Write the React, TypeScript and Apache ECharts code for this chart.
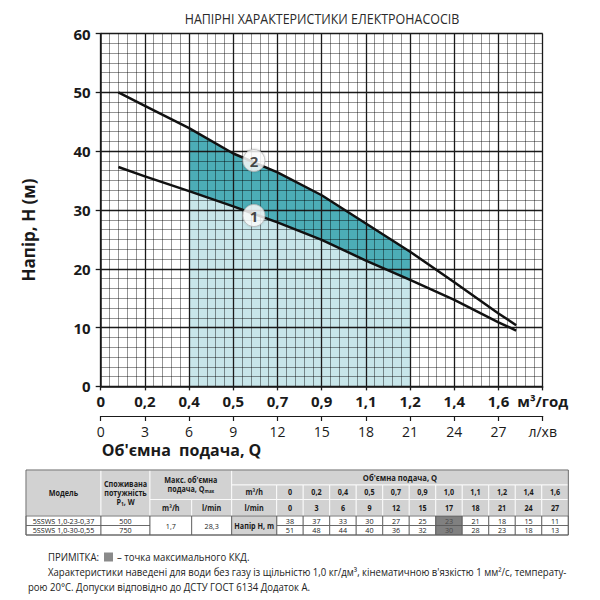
import React, { useEffect, useRef } from "react";
import * as echarts from "echarts";

// Flow axis runs in l/min; the m³/h row above it is its rounded equivalent
const flowTicksLpm = ["0", "3", "6", "9", "12", "15", "18", "21", "24", "27"];
const flowTicksM3h = ["0", "0,2", "0,4", "0,5", "0,7", "0,9", "1,1", "1,2", "1,4", "1,6"];

// Head curves: [flow, l/min ; head, m]
const curve1 = [
  [1.2, 37.3], [3, 35.7], [6, 33.2], [9, 30.6], [12, 27.9], [15, 24.9],
  [18, 21.4], [21, 18.1], [24, 14.7], [27, 10.9], [28.2, 9.5],
];
const curve2 = [
  [1.2, 50.0], [3, 47.7], [6, 43.9], [9, 39.6], [12, 36.4], [15, 32.5],
  [18, 27.7], [21, 22.9], [24, 17.7], [27, 12.4], [28.2, 10.4],
];
const curveTags = [
  { name: "1", value: [10.4, 29.05] },
  { name: "2", value: [10.4, 38.4] },
];
// Recommended working range, l/min
const workRange = [6, 21];

// Table
const tableModels = ["5SSWS 1,0-23-0,37", "5SSWS 1,0-30-0,55"];
const tablePower = ["500", "750"];
const qmaxM3h = "1,7";
const qmaxLpm = "28,3";
const tableFlowM3h = ["0", "0,2", "0,4", "0,5", "0,7", "0,9", "1,0", "1,1", "1,2", "1,4", "1,6"];
const tableFlowLpm = ["0", "3", "6", "9", "12", "15", "17", "18", "21", "24", "27"];
const tableHead1 = [38, 37, 33, 30, 27, 25, 23, 21, 18, 15, 11];
const tableHead2 = [51, 48, 44, 40, 36, 32, 30, 28, 23, 18, 13];
const bestEfficiencyIndex = 6;

const FONT = "'Open Sans', 'Noto Sans', sans-serif";
const INK = "#1a1a1a";
const TEAL = "#4cadb7";
const TEAL_LIGHT = "#c8e6ea";
const HEAD_FILL = "#d2d2d2";

const inRange = (c: number[][]) =>
  c.filter((p) => p[0] >= workRange[0] && p[0] <= workRange[1]);
const lowerPoly = [...inRange(curve1), [workRange[1], 0], [workRange[0], 0]];
const upperPoly = [...inRange(curve2), ...inRange(curve1).slice().reverse()];

function rect(x0: number, y0: number, x1: number, y1: number, fill: string, stroke: string, lw = 0.8) {
  return {
    type: "rect",
    silent: true,
    shape: { x: x0, y: y0, width: x1 - x0, height: y1 - y0 },
    style: { fill, stroke, lineWidth: lw },
  };
}

function txt(x: number, y: number, text: string, o: any = {}) {
  return {
    type: "text",
    silent: true,
    x,
    y,
    rotation: o.rotation || 0,
    style: {
      text,
      fontFamily: o.family || FONT,
      fontSize: o.size || 8,
      fontWeight: o.bold ? "bold" : "normal",
      fill: o.color || INK,
      align: o.align || "center",
      verticalAlign: "middle",
      lineHeight: o.lineHeight,
      rich: o.rich,
    },
    scaleX: o.scaleX || 1,
  };
}

function buildTable() {
  const els: any[] = [];
  const colX = [26, 101, 150, 191.7, 231.7, 276.7];
  const right = 568.3;
  const w = (right - colX[5]) / tableFlowM3h.length;
  const rowY = [470, 485, 499.5, 516, 525.5, 535];
  const hs = "#ffffff";
  const ds = "#555555";
  const sx = 0.9;
  const mid = (a: number, b: number) => (a + b) / 2;

  // header block
  els.push(rect(colX[0], rowY[0], colX[1], rowY[3], HEAD_FILL, hs));
  els.push(txt(mid(colX[0], colX[1]), mid(rowY[0], rowY[3]), "Модель", { bold: true, scaleX: sx }));
  els.push(rect(colX[1], rowY[0], colX[2], rowY[3], HEAD_FILL, hs));
  els.push(
    txt(mid(colX[1], colX[2]), mid(rowY[0], rowY[3]), "Споживана\nпотужність\n{b|P}{s|1}{b|, W}", {
      bold: true,
      lineHeight: 9,
      scaleX: sx,
      rich: {
        b: { fontFamily: FONT, fontSize: 8, fontWeight: "bold", fill: INK, lineHeight: 9 },
        s: { fontFamily: FONT, fontSize: 5.5, fontWeight: "bold", fill: INK, lineHeight: 9, verticalAlign: "bottom" },
      },
    })
  );
  els.push(rect(colX[2], rowY[0], colX[4], rowY[2], HEAD_FILL, hs));
  els.push(
    txt(mid(colX[2], colX[4]), mid(rowY[0], rowY[2]), "Макс. об'ємна\n{b|подача, Q}{s|max}", {
      bold: true,
      lineHeight: 9,
      scaleX: sx,
      rich: {
        b: { fontFamily: FONT, fontSize: 8, fontWeight: "bold", fill: INK, lineHeight: 9 },
        s: { fontFamily: FONT, fontSize: 5, fontWeight: "bold", fill: INK, lineHeight: 9, verticalAlign: "bottom" },
      },
    })
  );
  els.push(rect(colX[2], rowY[2], colX[3], rowY[3], HEAD_FILL, hs));
  els.push(txt(mid(colX[2], colX[3]), mid(rowY[2], rowY[3]), "m³/h", { bold: true, scaleX: sx }));
  els.push(rect(colX[3], rowY[2], colX[4], rowY[3], HEAD_FILL, hs));
  els.push(txt(mid(colX[3], colX[4]), mid(rowY[2], rowY[3]), "l/min", { bold: true, scaleX: sx }));

  els.push(rect(colX[4], rowY[0], right, rowY[1], HEAD_FILL, hs));
  els.push(txt(mid(colX[4], right), mid(rowY[0], rowY[1]), "Об'ємна подача, Q", { bold: true, size: 8.5, scaleX: sx }));
  els.push(rect(colX[4], rowY[1], colX[5], rowY[2], HEAD_FILL, hs));
  els.push(txt(mid(colX[4], colX[5]), mid(rowY[1], rowY[2]), "m³/h", { bold: true, scaleX: sx }));
  els.push(rect(colX[4], rowY[2], colX[5], rowY[3], HEAD_FILL, hs));
  els.push(txt(mid(colX[4], colX[5]), mid(rowY[2], rowY[3]), "l/min", { bold: true, scaleX: sx }));
  tableFlowM3h.forEach((v, i) => {
    const x0 = colX[5] + i * w;
    els.push(rect(x0, rowY[1], x0 + w, rowY[2], HEAD_FILL, hs));
    els.push(txt(x0 + w / 2, mid(rowY[1], rowY[2]), v, { bold: true, scaleX: sx }));
    els.push(rect(x0, rowY[2], x0 + w, rowY[3], HEAD_FILL, hs));
    els.push(txt(x0 + w / 2, mid(rowY[2], rowY[3]), tableFlowLpm[i], { bold: true, scaleX: sx }));
  });

  // data rows
  [0, 1].forEach((r) => {
    const y0 = rowY[3 + r];
    const y1 = rowY[4 + r];
    els.push(rect(colX[0], y0, colX[1], y1, "#ffffff", ds));
    els.push(txt(mid(colX[0], colX[1]), mid(y0, y1), tableModels[r], { scaleX: sx }));
    els.push(rect(colX[1], y0, colX[2], y1, "#ffffff", ds));
    els.push(txt(mid(colX[1], colX[2]), mid(y0, y1), tablePower[r], { scaleX: sx }));
    const heads = r === 0 ? tableHead1 : tableHead2;
    heads.forEach((v, i) => {
      const x0 = colX[5] + i * w;
      const best = i === bestEfficiencyIndex;
      els.push(rect(x0, y0, x0 + w, y1, best ? "#808080" : "#ffffff", ds));
      els.push(txt(x0 + w / 2, mid(y0, y1), String(v), { scaleX: sx, color: best ? "#4a4a4a" : INK }));
    });
  });
  els.push(rect(colX[2], rowY[3], colX[3], rowY[5], "#ffffff", ds));
  els.push(txt(mid(colX[2], colX[3]), mid(rowY[3], rowY[5]), qmaxM3h, { scaleX: sx }));
  els.push(rect(colX[3], rowY[3], colX[4], rowY[5], "#ffffff", ds));
  els.push(txt(mid(colX[3], colX[4]), mid(rowY[3], rowY[5]), qmaxLpm, { scaleX: sx }));
  els.push(rect(colX[4], rowY[3], colX[5], rowY[5], HEAD_FILL, ds));
  els.push(txt(mid(colX[4], colX[5]), mid(rowY[3], rowY[5]), "Напір H, m", { bold: true, scaleX: sx }));

  // outer frame
  els.push(rect(colX[0], rowY[0], right, rowY[5], "none", "#666666", 1));
  return els;
}

function buildNotes() {
  const o = { size: 10.3, align: "left", family: FONT, color: "#222222", scaleX: 0.93 };
  return [
    txt(48, 557, "ПРИМІТКА:", o),
    rect(104, 552.5, 113, 561.5, "#8a8a8a", "none"),
    txt(117, 557, "– точка максимального ККД.", o),
    txt(
      48,
      572,
      "Характеристики наведені для води без газу із щільністю 1,0 кг/дм³, кінематичною в'язкістю 1 мм²/с, температу-",
      o
    ),
    txt(28, 587, "рою 20°С. Допуски відповідно до ДСТУ ГОСТ 6134 Додаток А.", o),
  ];
}

export default function App() {
  const ref = useRef<HTMLDivElement>(null);

  useEffect(() => {
    if (!ref.current) return;
    const chart = echarts.init(ref.current, undefined, { renderer: "svg" });

    const majorLine = { show: true, lineStyle: { color: INK, width: 1.3 } };
    // translucent so the fine grid darkens the shaded areas instead of greying them
    const minorLine = { show: true, lineStyle: { color: "rgba(0,0,0,0.42)", width: 1 } };
    const labelBold = { fontFamily: FONT, fontSize: 15, fontWeight: "bold", color: INK };

    // shaded working-range areas sit underneath the grid lines
    const polySeries = (poly: number[][], fill: string) => ({
      type: "custom",
      z: 0,
      zlevel: 0,
      silent: true,
      data: [[workRange[0], 0]],
      renderItem: (_p: any, api: any) => ({
        type: "polygon",
        z2: 0,
        shape: { points: poly.map((pt) => api.coord(pt)) },
        style: { fill },
      }),
    });

    chart.setOption({
      animation: false,
      grid: { left: 100.7, right: 57.3, top: 33.5, bottom: 213.6, containLabel: false },
      xAxis: [
        {
          type: "value",
          z: 1,
          min: 0,
          max: 30,
          interval: 3,
          position: "bottom",
          axisLine: { show: true, onZero: false, lineStyle: { color: INK, width: 1.5 } },
          axisTick: { show: true, length: 4, lineStyle: { color: INK, width: 1.3 } },
          axisLabel: {
            ...labelBold,
            margin: 7,
            formatter: (v: number) => {
              const i = Math.round(v / 3);
              return i < flowTicksM3h.length ? flowTicksM3h[i] : "м³/год";
            },
          },
          splitLine: majorLine,
          minorTick: { show: false, splitNumber: 5 },
          minorSplitLine: minorLine,
        },
        {
          type: "value",
          z: 1,
          min: 0,
          max: 30,
          interval: 3,
          position: "bottom",
          offset: 29.6,
          axisLine: { show: true, onZero: false, lineStyle: { color: INK, width: 1.2 } },
          axisTick: { show: true, length: 5, lineStyle: { color: INK, width: 1.2 } },
          axisLabel: {
            fontFamily: FONT,
            fontSize: 14,
            color: INK,
            margin: 8,
            formatter: (v: number) => {
              const i = Math.round(v / 3);
              return i < flowTicksLpm.length ? flowTicksLpm[i] : "л/хв";
            },
          },
          splitLine: { show: false },
        },
      ],
      yAxis: {
        type: "value",
        z: 1,
        min: 0,
        max: 60,
        interval: 10,
        axisLine: { show: true, lineStyle: { color: INK, width: 1.5 } },
        axisTick: { show: true, length: 5, lineStyle: { color: INK, width: 1.3 } },
        axisLabel: { ...labelBold, margin: 10 },
        splitLine: majorLine,
        minorTick: { show: false, splitNumber: 6 },
        minorSplitLine: minorLine,
      },
      series: [
        polySeries(lowerPoly, TEAL_LIGHT),
        polySeries(upperPoly, TEAL),
        {
          type: "line",
          data: curve1,
          showSymbol: false,
          silent: true,
          z: 3,
          lineStyle: { color: "#111111", width: 2.5 },
        },
        {
          type: "line",
          data: curve2,
          showSymbol: false,
          silent: true,
          z: 3,
          lineStyle: { color: "#111111", width: 2.5 },
        },
        {
          type: "scatter",
          data: curveTags,
          symbol: "circle",
          symbolSize: 22,
          silent: true,
          z: 5,
          itemStyle: {
            color: "#ffffff",
            borderColor: "#b5b5b5",
            borderWidth: 1,
            shadowColor: "rgba(0,0,0,0.25)",
            shadowBlur: 2,
          },
          label: {
            show: true,
            position: "inside",
            formatter: (p: any) => p.name,
            fontFamily: FONT,
            fontSize: 15,
            fontWeight: "bold",
            color: INK,
          },
        },
      ],
      graphic: {
        elements: [
          txt(322, 18.5, "НАПІРНІ ХАРАКТЕРИСТИКИ ЕЛЕКТРОНАСОСІВ", {
            size: 14.5,
            color: "#2a2a2a",
            scaleX: 0.86,
          }),
          txt(28, 230, "Напір, Н (м)", { size: 17, bold: true, rotation: Math.PI / 2 }),
          txt(101.7, 450, "Об'ємна  подача, Q", { size: 16, bold: true, align: "left" }),
          ...buildTable(),
          ...buildNotes(),
        ],
      },
    });

    return () => chart.dispose();
  }, []);

  return (
    <div
      ref={ref}
      style={{ position: "fixed", left: 0, top: 0, width: 600, height: 600, background: "#ffffff" }}
    />
  );
}
